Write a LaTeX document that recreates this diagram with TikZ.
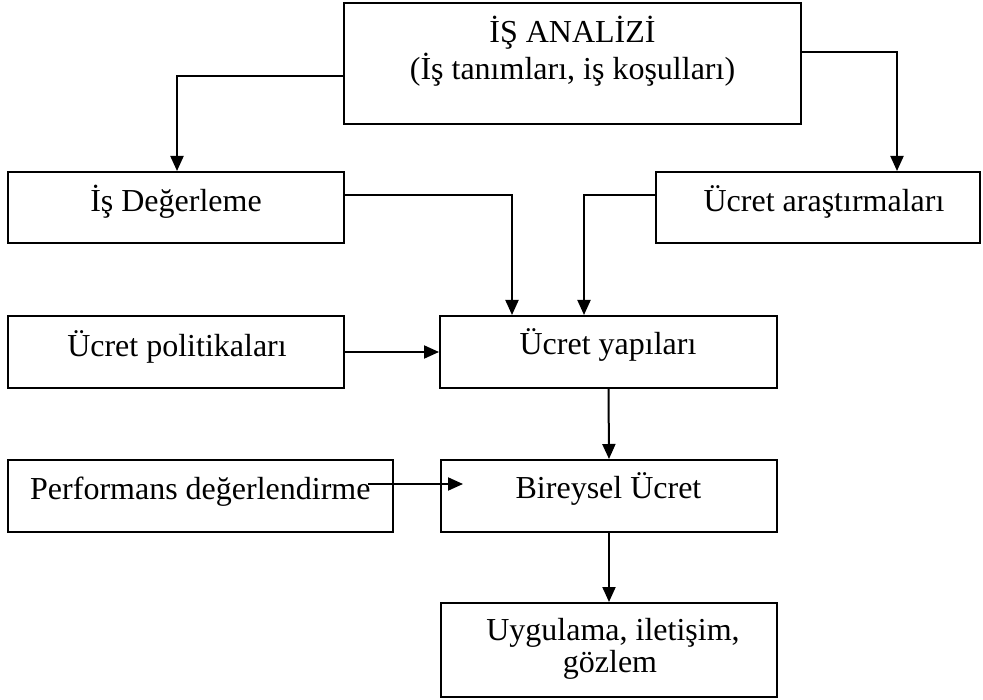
\documentclass[tikz,border=0pt]{standalone}
\usepackage{fontspec}
\setmainfont{Liberation Serif}
\usetikzlibrary{arrows.meta}
\begin{document}
\begin{tikzpicture}[x=1pt,y=-1pt,
  box/.style={draw, line width=2pt, rectangle, inner sep=0pt},
  lbl/.style={inner sep=0pt, font=\fontsize{32}{37}\selectfont},
  conn/.style={line width=2pt, -{Triangle[length=15pt,width=13pt]}}]
\useasboundingbox (0,0) rectangle (983,700);
% boxes
\node[box, minimum width=457pt, minimum height=121pt] (ana) at (572.5,63.5) {};
\node[box, minimum width=336pt, minimum height=71pt] (deg) at (176,207.5) {};
\node[box, minimum width=324pt, minimum height=71pt] (ara) at (818,207.5) {};
\node[box, minimum width=336pt, minimum height=72pt] (pol) at (176,352) {};
\node[box, minimum width=337pt, minimum height=72pt] (yap) at (608.5,352) {};
\node[box, minimum width=385pt, minimum height=72pt] (per) at (200.5,496) {};
\node[box, minimum width=336pt, minimum height=72pt] (bir) at (609,496) {};
\node[box, minimum width=336pt, minimum height=94pt] (uyg) at (609,650) {};
% texts
\node[lbl, anchor=base] (t1) at (572.5,43) {İŞ ANALİZİ};
\node[lbl, anchor=base] (t2) at (572.5,80) {(İş tanımları, iş koşulları)};
\node[lbl, anchor=base] (t3) at (176,212) {İş Değerleme};
\node[lbl, anchor=base] (t4) at (824,212) {Ücret araştırmaları};
\node[lbl, anchor=base] (t5) at (177,357) {Ücret politikaları};
\node[lbl, anchor=base] (t6) at (608,355) {Ücret yapıları};
\node[lbl, anchor=base west] (t7) at (30,500) {Performans değerlendirme};
\node[lbl, anchor=base] (t8) at (608.5,498) {Bireysel Ücret};
\node[lbl, anchor=base] (t9) at (613,640) {Uygulama, iletişim,};
\node[lbl, anchor=base] (t10) at (610,672) {gözlem};
% connector helper points
\coordinate (c1) at (177,76);
\coordinate (c2) at (897,52);
\coordinate (c3) at (512,195);
\coordinate (c4) at (584,195);
\coordinate (ps) at (368,484);
\coordinate (pt) at (463,484);
% connectors
\draw[conn] (ana.west |- c1) -- (c1) -- (c1 |- deg.north);
\draw[conn] (ana.east |- c2) -- (c2) -- (c2 |- ara.north);
\draw[conn] (deg.east |- c3) -- (c3) -- (c3 |- yap.north);
\draw[conn] (ara.west |- c4) -- (c4) -- (c4 |- yap.north);
\draw[conn] (pol.east) -- (pol.east -| yap.west);
\draw[conn] (yap.south) -- (bir.north);
\draw[conn] (ps) -- (pt);
\draw[conn] (bir.south) -- (uyg.north);
\end{tikzpicture}
\end{document}
